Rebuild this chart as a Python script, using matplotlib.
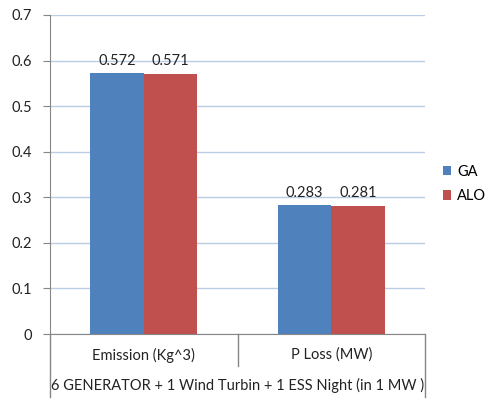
import numpy as np
import matplotlib
matplotlib.use('Agg')
import matplotlib.pyplot as plt

# Chart data
categories = ['Emission (Kg^3)', 'P Loss (MW)']
group_label = '6 GENERATOR + 1 Wind Turbin + 1 ESS Night (in 1 MW )'
series_names = ['GA', 'ALO']
ga_values = [0.572, 0.283]
alo_values = [0.571, 0.281]
y_ticks = [0, 0.1, 0.2, 0.3, 0.4, 0.5, 0.6, 0.7]

colors = ['#4f81bd', '#c0504d']
axis_grey = '#868686'

plt.rcParams['font.family'] = ['Lato', 'DejaVu Sans']

fig = plt.figure(figsize=(4.88, 3.99), dpi=100)
ax = fig.add_axes([50 / 488, 1 - 334 / 399, 375 / 488, 319 / 399])

x = np.arange(len(categories))
width = 0.285
for i, (name, vals) in enumerate(zip(series_names, [ga_values, alo_values])):
    pos = x + (i - 0.5) * width
    bars = ax.bar(pos, vals, width, color=colors[i], label=name, zorder=3)
    for b, v in zip(bars, vals):
        ax.text(b.get_x() + b.get_width() / 2, v + 0.012, f'{v:.3f}',
                ha='center', va='bottom', fontsize=10.5, color='#222222')

ax.set_xlim(-0.5, len(categories) - 0.5)
ax.set_ylim(0, 0.7)
ax.set_yticks(y_ticks)
ax.set_yticklabels(['0' if t == 0 else f'{t:.1f}' for t in y_ticks])
ax.tick_params(axis='y', length=5, color=axis_grey, labelsize=10.5,
               labelcolor='#222222', pad=8)
ax.set_xticks([])
ax.grid(axis='y', color='#b9cde5', linewidth=1, zorder=0)

for side in ['top', 'right']:
    ax.spines[side].set_visible(False)
ax.spines['left'].set_color(axis_grey)
ax.spines['bottom'].set_color(axis_grey)

# Two-level category axis
px = 1 / 319  # one pixel in axes height units
tr = ax.transAxes
for xs, ybot in [(0, -63 * px), (0.5, -32 * px), (1, -63 * px)]:
    ax.plot([xs, xs], [0, ybot], color=axis_grey, lw=1, transform=tr, clip_on=False)
for i, cat in enumerate(categories):
    ax.text((i + 0.5) / len(categories), -21 * px, cat, transform=tr,
            ha='center', va='center', fontsize=10.5, color='#222222')
ax.text(0.5, -51 * px, group_label, transform=tr, ha='center', va='center',
        fontsize=10.5, color='#222222')

ax.legend(loc='center left', bbox_to_anchor=(1.0, 0.47), frameon=False,
          fontsize=10.5, handlelength=0.6, handleheight=0.6,
          handletextpad=0.4, labelspacing=0.7, borderaxespad=0.8)

fig.savefig('out.png', dpi=100)
